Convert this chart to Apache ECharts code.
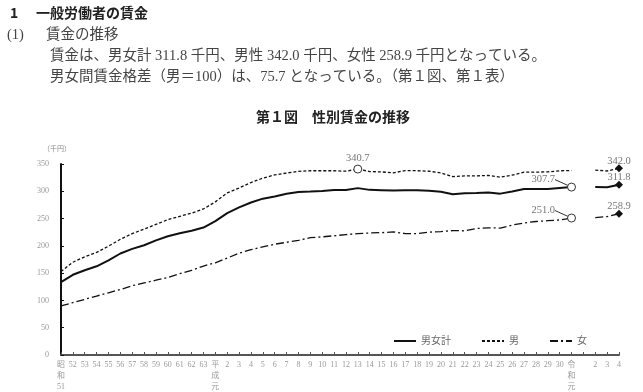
<!DOCTYPE html>
<html><head><meta charset="utf-8">
<script src="https://cdn.jsdelivr.net/npm/echarts@6/dist/echarts.min.js"></script>
<style>html,body{margin:0;padding:0;background:#fff}#c{width:643px;height:392px}</style>
</head><body><div id="c"></div>
<script>
// ---- data ----
const categories = ['昭\n和\n51','52','53','54','55','56','57','58','59','60','61','62','63',
  '平\n成\n元','2','3','4','5','6','7','8','9','10','11','12','13','14','15','16','17','18','19','20',
  '21','22','23','24','25','26','27','28','29','30','令\n和\n元','','2','3','4'];
const totalValues = [133.5,147.0,155.3,162.5,173.5,186.0,194.5,201.2,210.0,217.6,223.0,227.6,233.5,
  245.3,260.0,270.5,279.4,286.5,290.6,295.3,298.8,299.4,300.6,302.4,302.2,
  305.8,302.6,302.1,301.6,302.0,301.8,301.1,299.1,294.5,296.2,296.8,297.7,295.7,299.6,304.0,304.0,304.3,306.2,
  307.7,null,307.7,307.4,311.8];
const maleValues = [153.0,170.0,180.0,188.0,199.4,212.0,222.4,230.6,239.4,248.0,254.0,260.0,267.6,
  280.6,297.0,306.0,316.0,324.0,330.0,333.5,336.5,337.6,337.6,337.6,336.8,
  340.7,336.2,335.5,333.9,337.8,337.7,336.7,333.7,326.8,328.3,328.3,329.0,326.0,329.6,335.1,335.2,335.5,337.6,
  338.0,null,338.8,337.2,342.0];
const femaleValues = [90.0,96.0,102.0,108.0,114.0,120.0,127.0,132.0,137.0,142.0,149.0,155.0,163.0,
  169.0,177.6,186.5,193.0,198.2,203.0,206.5,210.0,215.0,216.5,218.5,220.6,
  222.4,223.6,224.2,225.6,222.5,222.6,225.2,226.1,228.0,227.6,231.9,233.1,232.6,238.0,242.0,244.6,246.1,247.5,
  251.0,null,251.8,253.6,258.9];
const seriesNames = ['男女計','男','女'];
const yMin = 0, yMax = 350, yStep = 50;
// marked points (category index)
const openMarks = [[43],[25],[43]];      // open circles: total, male, female
const leaderMarks = [[43],[],[43]];      // labels with leader line
const diamondIndex = 47;

const serifJP = "'Liberation Serif','DejaVu Serif','Noto Sans CJK JP'";
const labelColor = '#777';

function buildData(values, si){
  return values.map((v,i)=>{
    if (v === null) return '-';
    const open = openMarks[si].includes(i);
    const dia = i === diamondIndex;
    if (!open && !dia) return {value: v, symbol: 'none'};
    return {
      value: v,
      symbol: open ? 'circle' : 'diamond',
      symbolSize: 8,
      itemStyle: open ? {color:'#fff', borderColor:'#333', borderWidth:1} : {color:'#111', borderWidth:0},
      label: {show: true, position: 'top', distance: open ? 1 : -2, formatter: v.toFixed(1),
        color: labelColor, fontSize: 10.5, fontFamily: serifJP},
      labelLine: {show: leaderMarks[si].includes(i), lineStyle: {color:'#333', width: 1}}
    };
  });
}

function leaderLayout(si){
  return function(p){
    if (leaderMarks[si].includes(p.dataIndex)) {
      return {x: p.rect.x - 12, y: p.rect.y - 3, align: 'right', verticalAlign: 'middle'};
    }
    return {};
  };
}

const lineStyles = [
  {color:'#111', width:2, type:'solid'},
  {color:'#111', width:1.3, type:[3,2]},
  {color:'#111', width:1.3, type:[8,3,2,3]}
];
const valueSets = [totalValues, maleValues, femaleValues];

const bodyFont = "14.5px " + serifJP;
const chart = echarts.init(document.getElementById('c'), null, {renderer:'canvas'});
chart.setOption({
  backgroundColor: '#fff',
  animation: false,
  graphic: [
    {type:'text', left: 10, top: 6, style:{text:'1', font:"bold 14px 'Noto Sans CJK JP'", fill:'#222'}},
    {type:'text', left: 36, top: 6, style:{text:'一般労働者の賃金', font:"bold 14px 'Noto Sans CJK JP'", fill:'#222'}},
    {type:'text', left: 7, top: 28, style:{text:'(1)', font:bodyFont, fill:'#444'}},
    {type:'text', left: 46, top: 28, style:{text:'賃金の推移', font:bodyFont, fill:'#444'}},
    {type:'text', left: 50, top: 49, style:{text:'賃金は、男女計 311.8 千円、男性 342.0 千円、女性 258.9 千円となっている。', font:bodyFont, fill:'#444'}},
    {type:'text', left: 50, top: 70, style:{text:'男女間賃金格差（男＝100）は、75.7 となっている。（第１図、第１表）', font:bodyFont, fill:'#444'}},
    {type:'text', left: 256, top: 110, style:{text:'第１図　性別賃金の推移', font:"bold 14px 'Noto Sans CJK JP'", fill:'#222'}},
    {type:'text', left: 43, top: 145, style:{text:'（千円）', font:"7px 'Noto Sans CJK JP'", fill:'#888'}}
  ],
  legend: {
    data: seriesNames,
    left: 388, top: 331,
    itemWidth: 22, itemHeight: 4, itemGap: 30,
    itemStyle: {opacity: 0},
    textStyle: {fontSize: 10, color: '#666', fontFamily: serifJP}
  },
  grid: {left: 61, right: 24, top: 164, bottom: 28},
  xAxis: {
    type: 'category', data: categories, boundaryGap: false,
    axisLine: {lineStyle: {color:'#555', width: 2}},
    axisTick: {show: true, inside: true, length: 3, interval: 0, lineStyle:{color:'#555', width:1}},
    axisLabel: {interval: 0, fontSize: 8, color: '#999', lineHeight: 11, margin: 4, fontFamily: serifJP},
    splitLine: {show: false}
  },
  yAxis: {
    type: 'value', min: yMin, max: yMax, interval: yStep,
    axisLine: {show: true, lineStyle: {color:'#111', width: 2}},
    axisTick: {show: true, inside: true, length: 3, lineStyle:{color:'#111'}},
    axisLabel: {fontSize: 8, color: '#999', margin: 12, fontFamily: serifJP},
    splitLine: {show: false}
  },
  series: valueSets.map((vals, si) => ({
    name: seriesNames[si],
    type: 'line',
    data: buildData(vals, si),
    symbol: 'none',
    showSymbol: true,
    connectNulls: false,
    lineStyle: lineStyles[si],
    itemStyle: {color: '#111'},
    labelLayout: leaderLayout(si),
    labelLine: {show: true, smooth: false, lineStyle:{color:'#333', width:1}},
    z: 3 - si
  }))
});
</script></body></html>
